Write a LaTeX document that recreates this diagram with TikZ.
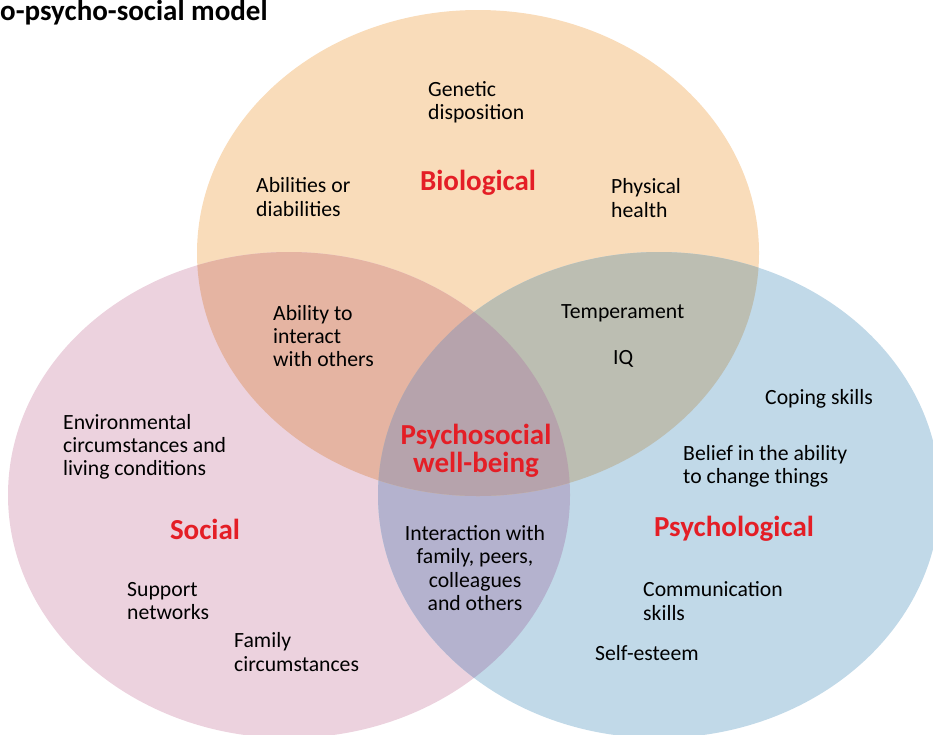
\documentclass[tikz,border=0pt]{standalone}
\usepackage{fontspec}
\setmainfont{Carlito}
\definecolor{bioFill}{RGB}{249,220,186}
\definecolor{socFill}{RGB}{236,210,222}
\definecolor{psyFill}{RGB}{193,217,232}
\definecolor{bioSoc}{RGB}{229,180,162}
\definecolor{bioPsy}{RGB}{188,190,178}
\definecolor{socPsy}{RGB}{180,178,206}
\definecolor{allThree}{RGB}{182,163,172}
\definecolor{labRed}{RGB}{228,30,38}
\begin{document}
\begin{tikzpicture}[x=1pt, y=-1pt,
    txt/.style={inner sep=0pt, align=left, anchor=west, font=\fontsize{21.7}{23.3}\selectfont},
    lbl/.style={inner sep=0pt, align=center, text=labRed, font=\fontsize{29}{28}\selectfont\bfseries}]
        \def \Bx {478};
        \def \By {253};
        \def \Sx {289};
        \def \Sy {495};
        \def \Px {659};
        \def \Py {495};
        \def \Rx {281};
        \def \Ry {243};

        \useasboundingbox (0, 0) rectangle (933, 734);
        \clip (0, 0) rectangle (933, 734);

        % круги
        \fill [bioFill] (\Bx, \By) ellipse [x radius=\Rx, y radius=\Ry];
        \fill [socFill] (\Sx, \Sy) ellipse [x radius=\Rx, y radius=\Ry];
        \fill [psyFill] (\Px, \Py) ellipse [x radius=\Rx, y radius=\Ry];

        % пересечения
        \begin{scope}
            \clip (\Sx, \Sy) ellipse [x radius=\Rx, y radius=\Ry];
            \fill [socPsy] (\Px, \Py) ellipse [x radius=\Rx, y radius=\Ry];
        \end{scope}
        \begin{scope}
            \clip (\Bx, \By) ellipse [x radius=\Rx, y radius=\Ry];
            \fill [bioSoc] (\Sx, \Sy) ellipse [x radius=\Rx, y radius=\Ry];
            \fill [bioPsy] (\Px, \Py) ellipse [x radius=\Rx, y radius=\Ry];
            \clip (\Sx, \Sy) ellipse [x radius=\Rx, y radius=\Ry];
            \fill [allThree] (\Px, \Py) ellipse [x radius=\Rx, y radius=\Ry];
        \end{scope}

        % заголовок
        \node [inner sep=0pt, anchor=base west, font=\fontsize{29}{30}\selectfont\bfseries] (title) at (0, 20) {o-psycho-social model};

        % подписи
        \node [lbl] (bio) at (478, 183) {Biological};
        \node [lbl] (soc) at (205, 529) {Social};
        \node [lbl] (psy) at (734, 529) {Psychological};
        \node [lbl] (well) at (476, 451) {Psychosocial\\well-being};

        % факторы
        \node [txt] (genetic) at (428, 102) {Genetic\\disposition};
        \node [txt] (abilities) at (256, 197) {Abilities or\\diabilities};
        \node [txt] (physical) at (611, 198) {Physical\\health};
        \node [txt] (interact) at (273, 336) {Ability to\\interact\\with others};
        \node [txt] (temper) at (561, 313) {Temperament};
        \node [txt] (iq) at (613, 359) {IQ};
        \node [txt] (coping) at (765, 399) {Coping skills};
        \node [txt] (environ) at (63, 447) {Environmental\\circumstances and\\living conditions};
        \node [txt] (belief) at (683, 466) {Belief in the ability\\to change things};
        \node [txt, align=center, anchor=center] (family) at (475, 568) {Interaction with\\family, peers,\\colleagues\\and others};
        \node [txt] (support) at (127, 601) {Support\\networks};
        \node [txt] (commun) at (643, 601) {Communication\\skills};
        \node [txt] (famcirc) at (234, 652) {Family\\circumstances};
        \node [txt] (esteem) at (595, 653) {Self-esteem};
    \end{tikzpicture}
\end{document}
